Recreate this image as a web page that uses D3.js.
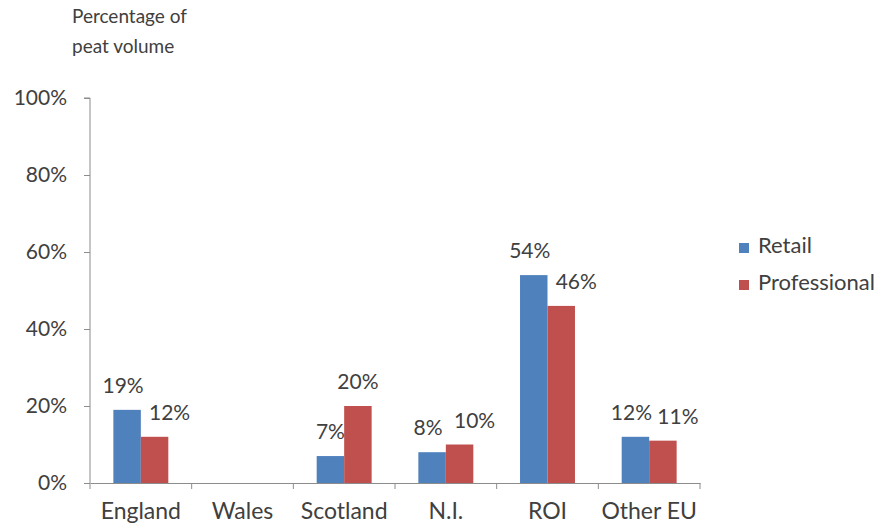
<!DOCTYPE html>
<html>
  <head>
    <meta charset="utf-8">
    <style type="text/css">
      body { margin: 0; background: #fff; }
      text { font-family: Lato, "Open Sans", sans-serif; fill: #404040; }
    </style>
  </head>
  <body>
    <svg id="chart" width="888" height="528"></svg>
    <script src="https://cdnjs.cloudflare.com/ajax/libs/d3/7.8.5/d3.min.js"></script>
    <script>
      const categories = ["England", "Wales", "Scotland", "N.I.", "ROI", "Other EU"];
      const series = ["Retail", "Professional"];
      const retail = [19, 0, 7, 8, 54, 12];
      const professional = [12, 0, 20, 10, 46, 11];
      const yTicks = [0, 20, 40, 60, 80, 100];
      const colors = ["#4f81bd", "#c0504d"];

      const svg = d3.select("#chart");
      const axisColor = "#8c8c8c";

      const x = d3.scaleBand().domain(categories).range([90, 700]);
      const xInner = d3.scaleBand().domain(series).range([0, x.bandwidth()]).paddingOuter(0.85);
      const y = d3.scaleLinear().domain([0, 100]).range([483, 98]);

      // title
      const title = svg.append("text").attr("x", 72).attr("y", 23).style("font-size", "19px");
      title.append("tspan").attr("x", 72).text("Percentage of");
      title.append("tspan").attr("x", 72).attr("dy", 30).text("peat volume");

      // y axis
      const yAxis = svg.append("g").attr("transform", "translate(90,0)")
        .call(d3.axisLeft(y).tickValues(yTicks).tickFormat((d) => d + "%").tickSize(6).tickPadding(17));
      yAxis.select(".domain").attr("stroke", axisColor).attr("d", `M-6,${y(100)}H0V${y(0)}`);
      yAxis.selectAll(".tick line").attr("stroke", axisColor);
      yAxis.selectAll(".tick text").style("font-size", "21px").attr("fill", "#404040")
        .style("font-family", "Lato, sans-serif");

      // x axis
      const xAxis = svg.append("g").attr("transform", `translate(0,${y(0)})`)
        .call(d3.axisBottom(x).tickSize(0).tickPadding(20));
      xAxis.select(".domain").attr("stroke", axisColor);
      xAxis.selectAll(".tick text").style("font-size", "23px").attr("fill", "#404040")
        .style("font-family", "Lato, sans-serif");
      const bounds = categories.map((c) => x(c)).concat([x.range()[1]]);
      xAxis.selectAll("line.sep").data(bounds).enter().append("line").attr("class", "sep")
        .attr("x1", (d) => d).attr("x2", (d) => d).attr("y1", 0).attr("y2", 6)
        .attr("stroke", axisColor);

      // bars
      const rows = categories.map((c, i) => ({ cat: c, values: [retail[i], professional[i]] }));
      const groups = svg.selectAll("g.group").data(rows).enter().append("g")
        .attr("class", "group")
        .attr("transform", (d) => `translate(${x(d.cat)},0)`);

      groups.selectAll("rect").data((d) => d.values.map((v, j) => ({ s: series[j], v: v, j: j })))
        .enter().append("rect")
        .attr("x", (d) => xInner(d.s))
        .attr("y", (d) => y(d.v))
        .attr("width", xInner.bandwidth())
        .attr("height", (d) => y(0) - y(d.v))
        .attr("fill", (d) => colors[d.j]);

      // data labels, nudged apart when the pair would crowd each other
      groups.each(function (row) {
        const [r, p] = row.values;
        const crowded = p <= r + 3;
        d3.select(this).selectAll("text.lbl")
          .data(row.values.map((v, j) => ({ s: series[j], v: v, j: j })).filter((d) => d.v > 0))
          .enter().append("text").attr("class", "lbl")
          .attr("text-anchor", "middle")
          .attr("x", (d) => xInner(d.s) + xInner.bandwidth() / 2 + (crowded ? (d.j === 0 ? -4 : 15) : 0))
          .attr("y", (d) => y(d.v) - 17)
          .style("font-size", "21px")
          .text((d) => d.v + "%");
      });

      // legend
      const legend = svg.append("g").selectAll("g").data(series).enter().append("g")
        .attr("transform", (d, i) => `translate(739,${243 + i * 37})`);
      legend.append("rect").attr("width", 10).attr("height", 10).attr("fill", (d, i) => colors[i]);
      legend.append("text").attr("x", 19).attr("y", 10).style("font-size", "22px").text((d) => d);
    </script>
  </body>
</html>
